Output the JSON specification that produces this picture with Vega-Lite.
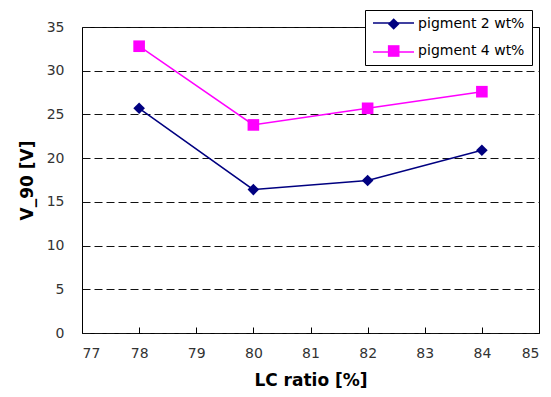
{
  "$schema": "https://vega.github.io/schema/vega-lite/v6.json",
  "width": 457,
  "height": 306,
  "autosize": "none",
  "padding": {"left": 82, "top": 27, "right": 12, "bottom": 64},
  "config": {
    "view": {"stroke": "#000000", "strokeWidth": 1},
    "font": "DejaVu Sans",
    "axis": {"labelFont": "DejaVu Sans", "titleFont": "DejaVu Sans", "labelColor": "#333333", "titleColor": "#000000"}
  },
  "data": {
    "values": [
      {"lc": 78, "v": 25.7, "series": "pigment 2 wt%"},
      {"lc": 80, "v": 16.4, "series": "pigment 2 wt%"},
      {"lc": 82, "v": 17.45, "series": "pigment 2 wt%"},
      {"lc": 84, "v": 20.9, "series": "pigment 2 wt%"},
      {"lc": 78, "v": 32.8, "series": "pigment 4 wt%"},
      {"lc": 80, "v": 23.8, "series": "pigment 4 wt%"},
      {"lc": 82, "v": 25.7, "series": "pigment 4 wt%"},
      {"lc": 84, "v": 27.6, "series": "pigment 4 wt%"}
    ]
  },
  "encoding": {
    "x": {
      "field": "lc", "type": "quantitative",
      "scale": {"domain": [77, 85], "nice": false, "zero": false},
      "axis": {"title": "LC ratio [%]", "values": [77,78,79,80,81,82,83,84,85], "labelOverlap": false, "grid": false, "domain": false,
               "tickSize": -6, "tickColor": "#000000", "labelFontSize": 14, "labelPadding": 19,
               "titleFontSize": 17, "titleFontWeight": "bold", "titlePadding": 12}
    },
    "y": {
      "field": "v", "type": "quantitative",
      "scale": {"domain": [0, 35], "nice": false},
      "axis": {"title": "V_90 [V]", "values": [0,5,10,15,20,25,30,35], "labelOverlap": false, "grid": true, "gridDash": [8, 4], "gridColor": "#111111",
               "domain": false, "ticks": false, "labelFontSize": 14, "labelPadding": 18,
               "titleFontSize": 17, "titleFontWeight": "bold", "titlePadding": 10}
    }
  },
  "layer": [
    {
      "mark": {"type": "point", "filled": true, "size": 135, "strokeWidth": 0, "opacity": 1},
      "encoding": {
        "fill": {"field": "series", "type": "nominal", "title": null,
          "scale": {"range": ["#000080", "#FF00FF"]},
          "legend": {"orient": "none", "legendX": 283, "legendY": -17, "title": null, "symbolSize": 135, "symbolStrokeWidth": 0,
                     "symbolOffset": 14.7, "labelOffset": 17.4, "labelFontSize": 14, "labelColor": "#000000", "labelFont": "DejaVu Sans",
                     "strokeColor": "#000000", "fillColor": "#ffffff", "padding": 7, "rowPadding": 13}},
        "shape": {"field": "series", "type": "nominal", "title": null,
          "scale": {"range": ["diamond", "square"]},
          "legend": {"orient": "none", "legendX": 283, "legendY": -17, "title": null, "symbolSize": 135, "symbolStrokeWidth": 0,
                     "symbolOffset": 14.7, "labelOffset": 17.4, "labelFontSize": 14, "labelColor": "#000000", "labelFont": "DejaVu Sans",
                     "strokeColor": "#000000", "fillColor": "#ffffff", "padding": 7, "rowPadding": 13}}
      }
    },
    {
      "mark": {"type": "line", "strokeWidth": 1.5},
      "encoding": {
        "color": {"field": "series", "type": "nominal", "title": null,
          "scale": {"domain": ["pigment 2 wt%", "pigment 4 wt%"], "range": ["#000080", "#FF00FF"]},
          "legend": {"orient": "none", "legendX": 290, "legendY": -25.45, "title": null, "symbolType": "stroke", "symbolSize": 1681,
                     "symbolStrokeWidth": 1.5, "labelFontSize": 14, "labelFont": "DejaVu Sans", "labelOpacity": 0,
                     "padding": 0, "rowPadding": -2}}
      }
    }
  ]
}
